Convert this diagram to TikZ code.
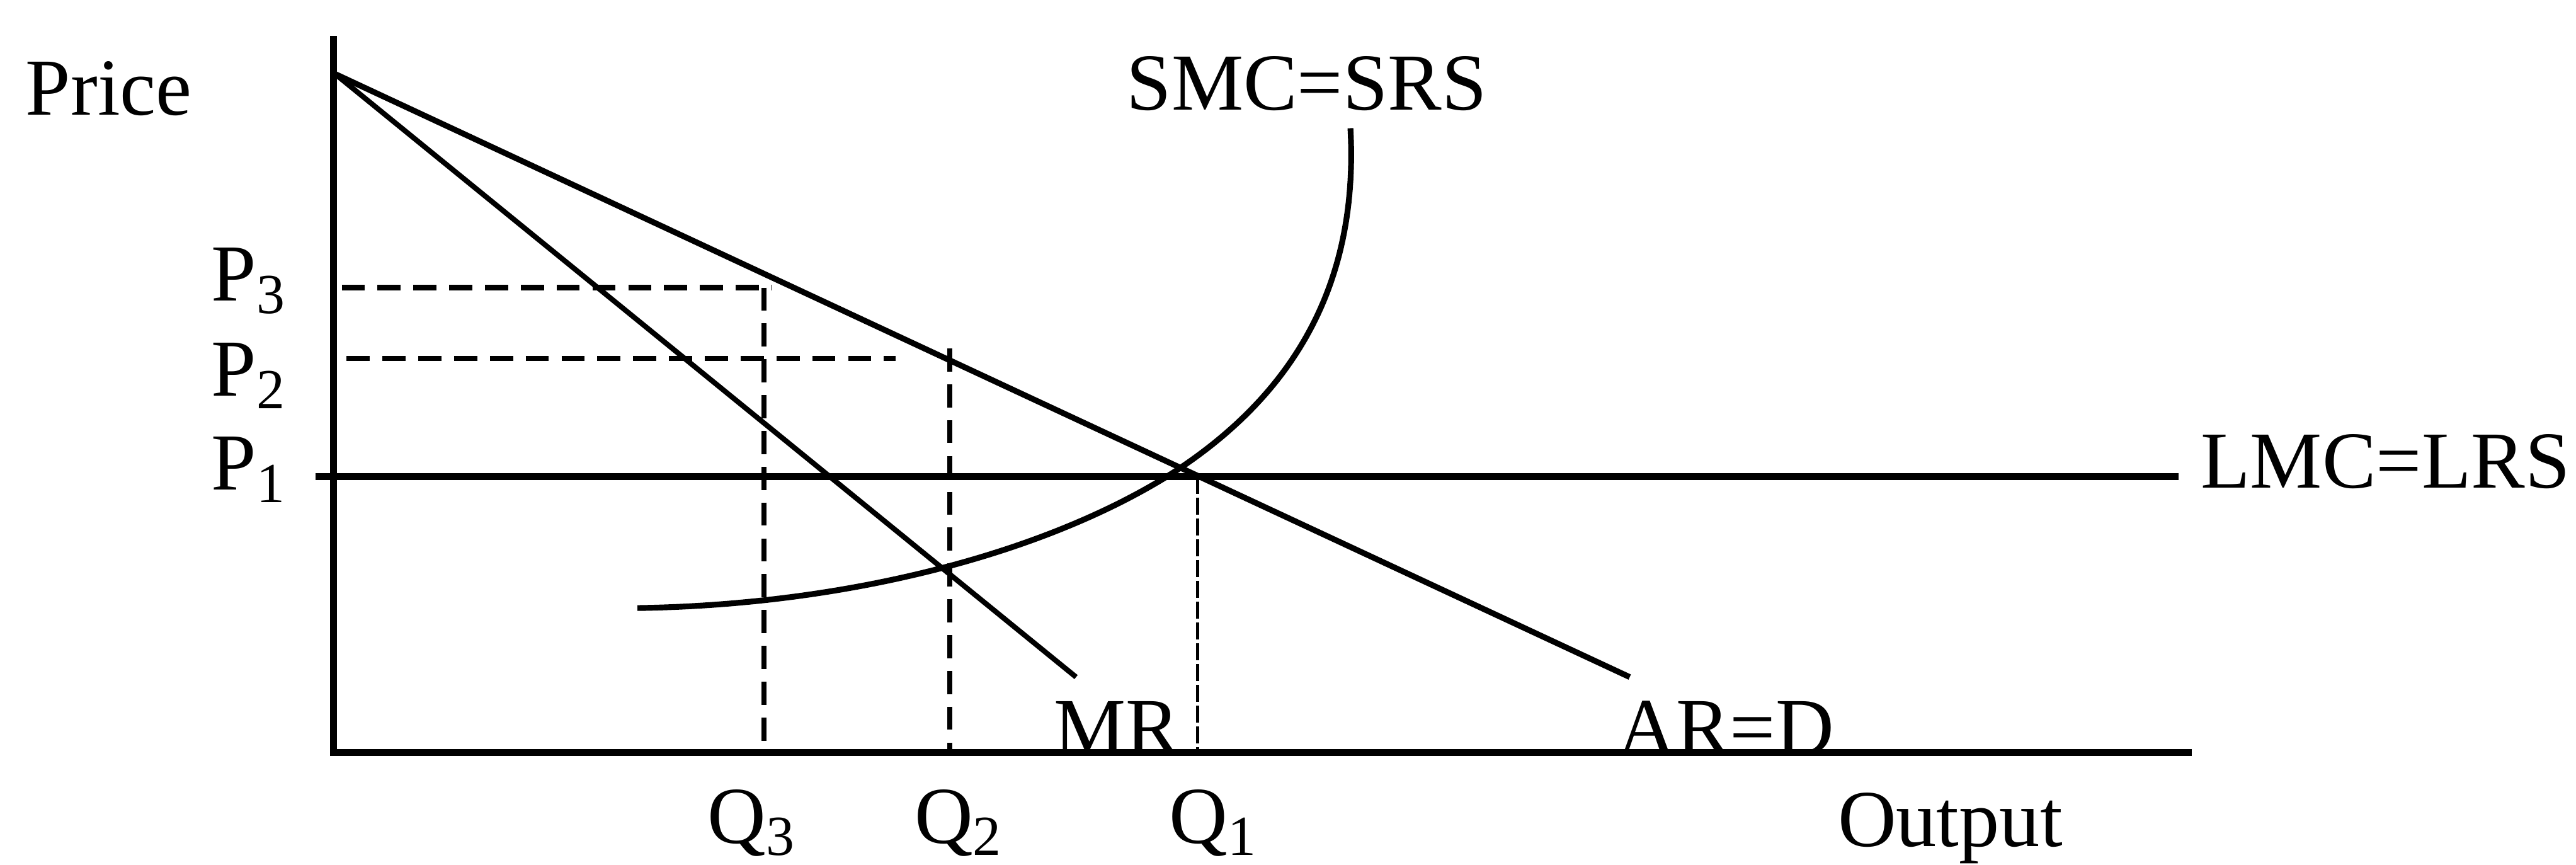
\documentclass[tikz,border=0pt]{standalone}
\usepackage{fontspec}
\setmainfont{Liberation Serif}
\usetikzlibrary{positioning}

\tikzset{
  curve/.style={line width=1pt},
  axisline/.style={line width=1.2pt},
  guide/.style={line width=0.9pt,dash pattern=on 4pt off 2.2pt},
  fineguide/.style={line width=0.5pt,dash pattern=on 3pt off 0.6pt},
  lbl/.style={inner sep=0pt,anchor=base west,font=\fontsize{14}{17}\selectfont},
}

\begin{document}
\begin{tikzpicture}[x=0.01cm,y=-0.01cm]
  \useasboundingbox (0,0) rectangle (1568,526);

  % axes
  \coordinate (ytop) at (203,22);
  \coordinate (org)  at (203,458);
  \coordinate (xend) at (1334,458);
  \draw[axisline] (ytop) -- (org) -- (xend);

  % labels
  \node[lbl] (price)  at (15,70)    {Price};
  \node[lbl] (p3)     at (128,183)  {P\textsubscript{3}};
  \node[lbl] (p2)     at (128,241)  {P\textsubscript{2}};
  \node[lbl] (p1)     at (128,298)  {P\textsubscript{1}};
  \node[lbl] (q3)     at (430,513)  {Q\textsubscript{3}};
  \node[lbl] (q2)     at (556,513)  {Q\textsubscript{2}};
  \node[lbl] (q1)     at (711,513)  {Q\textsubscript{1}};
  \node[lbl] (output) at (1118,515) {Output};
  \node[lbl] (mr)     at (641,459)  {MR};
  \node[lbl] (ard)    at (984,459)  {AR=D};
  \node[lbl] (smc)    at (685,67)   {SMC=SRS};
  \node[lbl] (lmc)    at (1339,297) {LMC=LRS};

  % demand and marginal revenue
  \coordinate (dtop) at (204,45);
  \coordinate (dend) at (992,412);
  \coordinate (mend) at (655,412);
  \draw[curve] (dtop) -- (dend);
  \draw[curve,line width=0.9pt] (dtop) -- (mend);

  % long run cost
  \coordinate (lstart) at (192,290);
  \coordinate (lstop)  at (1326,290);
  \draw[axisline] (lstart) -- (lstop);

  % short run cost
  \coordinate (sbot) at (388,370);
  \coordinate (smid) at (715,287);
  \coordinate (stop) at (822,78);
  \draw[curve] (sbot) .. controls (520,368) and (640,335) .. (smid)
                      .. controls (790,238) and (827,170) .. (stop);

  % price and quantity guides
  \coordinate (p3a) at (208,175);
  \coordinate (p3b) at (470,175);
  \coordinate (p2a) at (211,218);
  \coordinate (p2b) at (545,218);
  \coordinate (q3a) at (465,175);
  \coordinate (q3b) at (465,458);
  \coordinate (q2a) at (578,212);
  \coordinate (q2b) at (578,458);
  \coordinate (q1a) at (729,290);
  \coordinate (q1b) at (729,458);
  \draw[guide] (p3a) -- (p3b);
  \draw[guide] (p2a) -- (p2b);
  \draw[guide] (q3a) -- (q3b);
  \draw[guide] (q2a) -- (q2b);
  \draw[fineguide] (q1a) -- (q1b);
\end{tikzpicture}
\end{document}
